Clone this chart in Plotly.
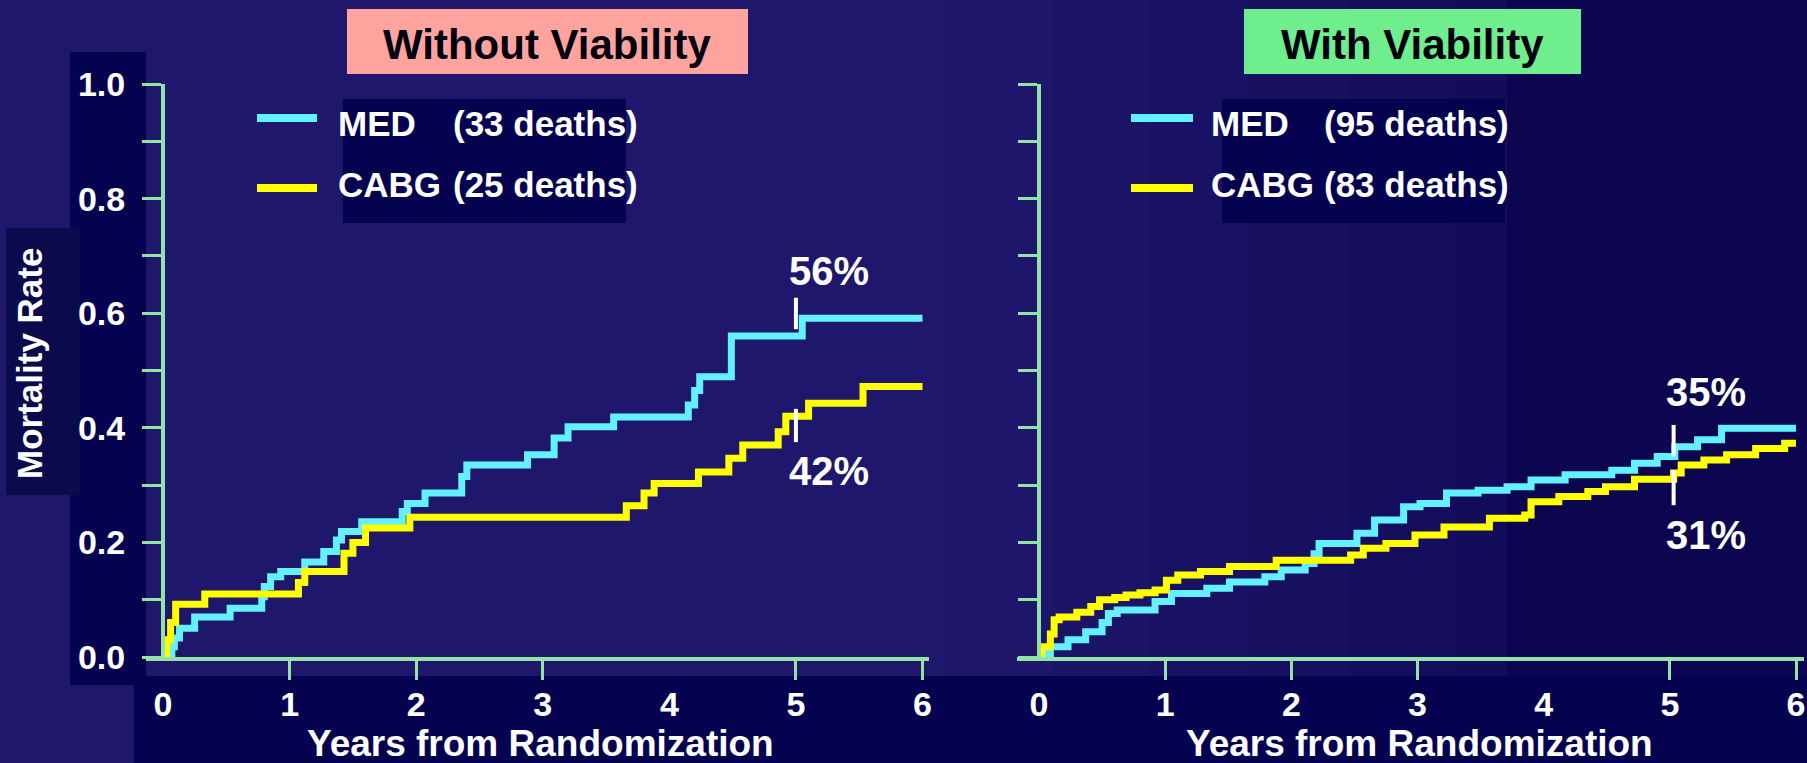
import plotly.graph_objects as go

# ---- Kaplan-Meier mortality curves (years from randomization, cumulative rate) ----
no_viab_med_t = [0, 0.07, 0.09, 0.13, 0.25, 0.53, 0.78, 0.80, 0.85, 0.93, 1.12, 1.27, 1.37, 1.41,
                 1.57, 1.89, 1.93, 2.07, 2.36, 2.40, 2.88, 3.09, 3.20, 3.56, 4.15, 4.20, 4.24, 4.49,
                 5.05, 6.0]
no_viab_med_y = [0, 0.018, 0.033, 0.05, 0.07, 0.085, 0.105, 0.123, 0.14, 0.149, 0.166, 0.184, 0.204,
                 0.219, 0.236, 0.254, 0.268, 0.286, 0.315, 0.335, 0.353, 0.382, 0.402, 0.419, 0.44,
                 0.465, 0.489, 0.56, 0.591, 0.591]

no_viab_cabg_t = [0, 0.03, 0.06, 0.10, 0.33, 1.07, 1.12, 1.43, 1.50, 1.60, 1.95, 3.66, 3.80, 3.88,
                  4.23, 4.47, 4.58, 4.86, 4.92, 5.10, 5.53, 6.0]
no_viab_cabg_y = [0, 0.03, 0.06, 0.092, 0.11, 0.13, 0.149, 0.181, 0.20, 0.225, 0.244, 0.264, 0.286,
                  0.303, 0.323, 0.347, 0.37, 0.393, 0.42, 0.443, 0.472, 0.472]

viab_med_t = [0, 0.05, 0.09, 0.23, 0.37, 0.50, 0.55, 0.62, 0.92, 1.05, 1.33, 1.51, 1.79, 1.92, 2.11,
              2.18, 2.22, 2.52, 2.66, 2.89, 3.02, 3.23, 3.48, 3.71, 3.90, 4.17, 4.54, 4.72, 4.90,
              5.04, 5.22, 5.41, 6.0]
viab_med_y = [0, 0.006, 0.018, 0.03, 0.044, 0.06, 0.076, 0.082, 0.097, 0.111, 0.12, 0.131, 0.14,
              0.152, 0.163, 0.18, 0.198, 0.216, 0.239, 0.262, 0.268, 0.286, 0.291, 0.297, 0.309,
              0.318, 0.326, 0.338, 0.35, 0.367, 0.379, 0.399, 0.399]

viab_cabg_t = [0, 0.02, 0.09, 0.12, 0.16, 0.30, 0.41, 0.48, 0.60, 0.69, 0.80, 0.92, 1.01, 1.10, 1.28,
               1.51, 1.88, 2.47, 2.57, 2.75, 2.98, 3.21, 3.57, 3.85, 3.90, 4.12, 4.35, 4.49, 4.72,
               5.03, 5.09, 5.27, 5.45, 5.68, 5.91, 6.0]
viab_cabg_y = [0.0, 0.018, 0.04, 0.065, 0.07, 0.078, 0.088, 0.10, 0.104, 0.108, 0.112, 0.117, 0.134,
               0.143, 0.149, 0.158, 0.169, 0.178, 0.19, 0.198, 0.213, 0.227, 0.242, 0.248, 0.271,
               0.28, 0.289, 0.297, 0.31, 0.321, 0.335, 0.344, 0.353, 0.364, 0.373, 0.373]

# ---- text ----
panel_titles = ["Without Viability", "With Viability"]
series_names = ["MED", "CABG"]
no_viab_deaths = ["(33 deaths)", "(25 deaths)"]
viab_deaths = ["(95 deaths)", "(83 deaths)"]
x_tick_vals = [0, 1, 2, 3, 4, 5, 6]
x_tick_text = ["0", "1", "2", "3", "4", "5", "6"]
y_tick_vals = [0.0, 0.2, 0.4, 0.6, 0.8, 1.0]
y_tick_text = ["0.0", "0.2", "0.4", "0.6", "0.8", "1.0"]
x_title = "Years from Randomization"
y_title = "Mortality Rate"

# 5-year rates called out on each panel
five_year_year = [5.0, 5.0, 5.03, 5.03]
five_year_rate = [0.56, 0.42, 0.35, 0.31]

# ---- styling ----
W, H = 1807, 763
FONT = "Liberation Sans, Arial, Helvetica, sans-serif"
BG = "#1E176B"
DARK = "#05034F"
AXIS = "#93E2A6"
CYAN = "#63F0FF"
YELLOW = "#FFFF00"


def fx(px):
    return px / W


def fy(py):
    return 1 - py / H


fig = go.Figure()

# curves
for t, y, col, xa, ya in [
    (no_viab_med_t, no_viab_med_y, CYAN, "x", "y"),
    (no_viab_cabg_t, no_viab_cabg_y, YELLOW, "x", "y"),
    (viab_med_t, viab_med_y, CYAN, "x2", "y2"),
    (viab_cabg_t, viab_cabg_y, YELLOW, "x2", "y2"),
]:
    fig.add_trace(go.Scatter(x=t, y=y, mode="lines", line=dict(color=col, width=7, shape="hv"),
                             xaxis=xa, yaxis=ya, showlegend=False, hoverinfo="skip"))

shapes = []


def rect(x0, y0, x1, y1, color, layer="below"):
    shapes.append(dict(type="rect", xref="paper", yref="paper", x0=fx(x0), x1=fx(x1),
                       y0=fy(y1), y1=fy(y0), fillcolor=color, line=dict(width=0), layer=layer))


# background tones darkening toward the right
band_edges = [950, 1050, 1150, 1250, 1350, 1450, 1507]
band_cols = ["#1D166A", "#1B1467", "#191264", "#171061", "#150E5E", "#130C5B"]
for i, c in enumerate(band_cols):
    rect(band_edges[i], 0, band_edges[i + 1], 676, c)
rect(1507, 0, W, 676, "#0C0550")

# dark panels behind tick labels and axis title
rect(70, 52, 146, 685, DARK)
rect(134, 676, W, H, DARK)
rect(6, 228, 80, 495, "#0A0A4C")

# legend panels
rect(343, 99, 626, 223, DARK)
rect(1222, 99, 1505, 223, DARK)

# title boxes
rect(347, 9, 748, 74, "#FFA39E")
rect(1244, 9, 1581, 74, "#6EEE8C")

annotations = []


def text(x, y, s, size, color="white", xanchor="center", angle=0):
    annotations.append(dict(xref="paper", yref="paper", x=fx(x), y=fy(y), text=s, showarrow=False,
                            xanchor=xanchor, yanchor="middle", textangle=angle,
                            font=dict(family=FONT, size=size, color=color, weight="bold")))


text(547, 44, panel_titles[0], 42, color="#000010")
text(1412, 44, panel_titles[1], 42, color="#000010")

# legends
for (lx0, lx1, tx, px_paren, deaths) in [(257, 317, 336, 451, no_viab_deaths),
                                         (1131, 1193, 1209, 1322, viab_deaths)]:
    for k, (col, ly, ty) in enumerate([(CYAN, 118, 124), (YELLOW, 188, 185)]):
        shapes.append(dict(type="line", xref="paper", yref="paper", x0=fx(lx0), x1=fx(lx1),
                           y0=fy(ly), y1=fy(ly), line=dict(color=col, width=8)))
        text(tx, ty, series_names[k], 35, xanchor="left")
        text(px_paren, ty, deaths[k], 35, xanchor="left")

# axis titles
text(29, 364, y_title, 35, angle=-90)
text(540, 743, x_title, 37)
text(1419, 743, x_title, 37)

# 5-year call-outs: white marks plus percentage labels
mark_axes = [("x", "y"), ("x", "y"), ("x2", "y2"), ("x2", "y2")]
mark_offsets = [(0.012, 0.067), (-0.045, 0.013), (0.0, 0.055), (-0.045, 0.016)]
label_offsets = [0.114, -0.095, 0.112, -0.097]
for (xa, ya), yr, v, (o0, o1), lo in zip(mark_axes, five_year_year, five_year_rate,
                                         mark_offsets, label_offsets):
    shapes.append(dict(type="line", xref=xa, yref=ya, x0=yr, x1=yr, y0=v + o0, y1=v + o1,
                       line=dict(color="white", width=4)))
    annotations.append(dict(xref=xa, yref=ya, x=yr + 0.26, y=v + lo, text=f"{round(v * 100)}%",
                            showarrow=False, xanchor="center", yanchor="middle",
                            font=dict(family=FONT, size=40, color="white", weight="bold")))

tick_font = dict(family=FONT, size=34, color="white", weight="bold")
y_dom = [fy(657), fy(84)]


def xaxis_cfg(px0, px_zero, px_six, px1):
    scale = (px_six - px_zero) / 6
    return dict(domain=[fx(px0), fx(px1)],
                range=[-(px_zero - px0) / scale, 6 + (px1 - px_six) / scale],
                showgrid=False, zeroline=False, showline=True, linecolor=AXIS, linewidth=4,
                tickmode="array", tickvals=x_tick_vals, ticktext=x_tick_text,
                ticks="outside", ticklen=14, tickwidth=3, tickcolor="rgba(0,0,0,0)",
                tickfont=tick_font, automargin=False,
                minor=dict(tickmode="array", tickvals=[1, 2, 3, 5, 6], ticks="outside",
                           ticklen=19, tickwidth=3, tickcolor=AXIS),
                fixedrange=True)


def yaxis_cfg(px_pos, labels):
    return dict(domain=y_dom, range=[0, 1], anchor="free", position=fx(px_pos),
                showgrid=False, zeroline=False, showline=True, linecolor=AXIS, linewidth=4,
                tickmode="array", tickvals=y_tick_vals, ticktext=y_tick_text,
                showticklabels=labels, ticks="outside", ticklen=19, tickwidth=3, tickcolor=AXIS,
                tickfont=tick_font, ticklabelstandoff=10, automargin=False,
                minor=dict(tickmode="array", tickvals=[0.1, 0.3, 0.5, 0.7, 0.9], ticks="outside",
                           ticklen=19, tickwidth=3, tickcolor=AXIS),
                fixedrange=True)


fig.update_layout(
    width=W, height=H,
    margin=dict(l=0, r=0, t=0, b=0, pad=0, autoexpand=False),
    paper_bgcolor=BG, plot_bgcolor="rgba(0,0,0,0)",
    xaxis=dict(anchor="y", **xaxis_cfg(146, 163, 922.5, 929)),
    yaxis=yaxis_cfg(163, True),
    xaxis2=dict(anchor="y2", **xaxis_cfg(1017, 1039, 1796, 1804)),
    yaxis2=yaxis_cfg(1039, False),
    shapes=shapes,
    annotations=annotations,
    showlegend=False,
)

fig.write_html("out.html", config={"responsive": False, "displayModeBar": False})
